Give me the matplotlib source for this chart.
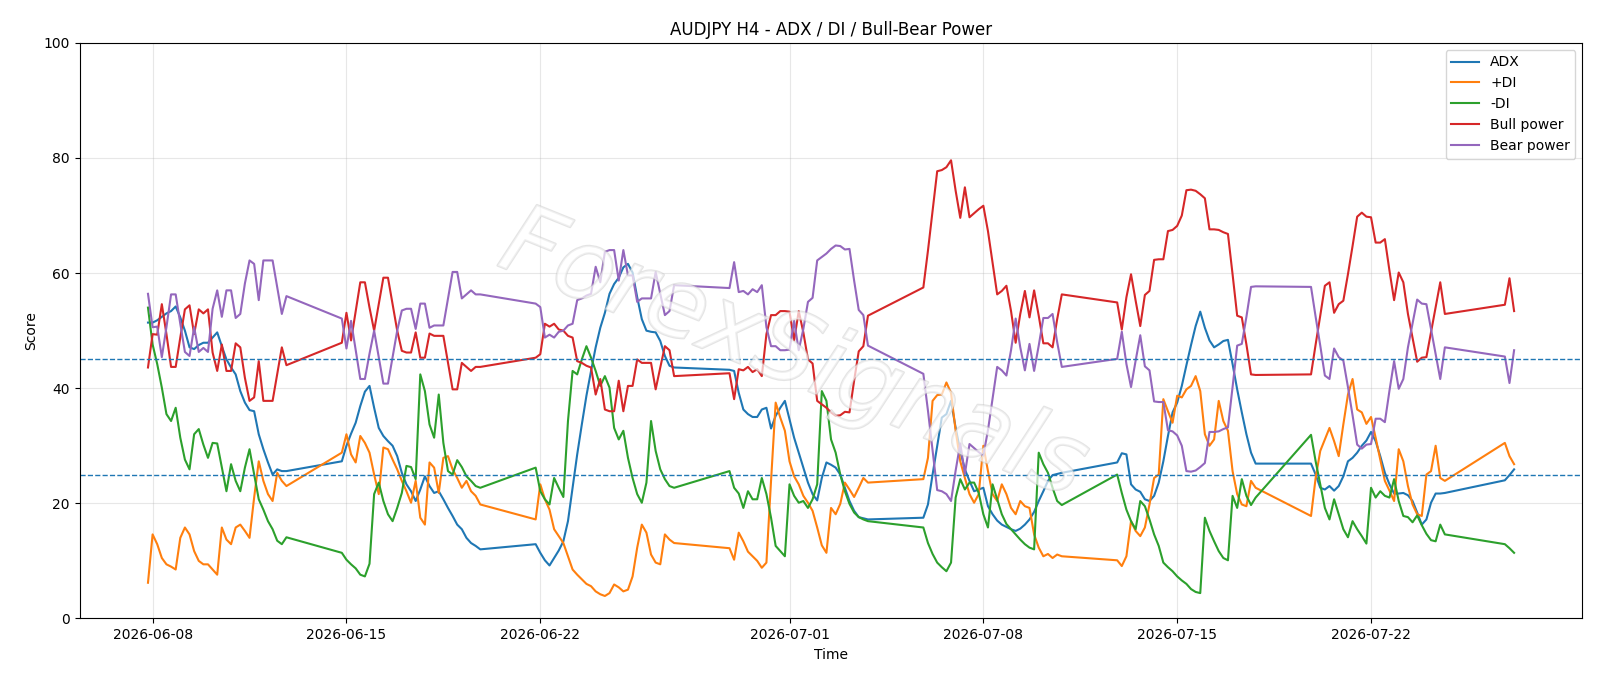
import matplotlib
matplotlib.use("Agg")
import matplotlib.pyplot as plt
import matplotlib.dates as mdates
import matplotlib.patheffects as pe
import pandas as pd

# H4 trading sessions: (first bar, number of bars); weekends are skipped
session_starts = ["2026-06-07 20:00", "2026-06-14 20:00", "2026-06-21 20:00", "2026-06-28 20:00",
                  "2026-07-05 20:00", "2026-07-12 20:00", "2026-07-19 20:00", "2026-07-26 20:00"]
session_bars = [31, 31, 31, 31, 31, 31, 30, 3]

adx = [
    51.4, 51.4, 51.8, 52.4, 53.0, 53.4, 54.2, 52.3, 50.0, 47.1, 46.8, 47.5, 47.9, 47.9, 48.8, 49.7,
    47.3, 45.0, 43.6, 42.4, 39.5, 37.5, 36.2, 36.0, 32.0, 29.4, 27.1, 25.0, 25.9, 25.6, 25.6,
    27.3, 30.0, 32.1, 34.0, 36.9, 39.4, 40.4, 36.6, 33.1, 31.7, 30.8, 30.0, 28.2, 25.3, 23.3, 22.1,
    20.4, 22.4, 24.7, 23.0, 21.8, 22.1, 20.7, 19.2, 17.8, 16.3, 15.5, 14.0, 13.1, 12.6, 12.0,
    12.9, 11.4, 10.1, 9.2, 10.5, 11.8, 13.4, 16.9, 22.7, 28.5, 33.7, 38.7, 43.0, 47.1, 50.5, 53.1,
    56.4, 58.1, 59.2, 61.0, 61.6, 60.1, 55.8, 52.0, 50.0, 49.8, 49.7, 48.2, 45.6, 43.9, 43.6,
    43.2, 43.0, 39.2, 36.3, 35.5, 35.0, 35.0, 36.3, 36.6, 33.0, 35.2, 36.6, 37.8, 34.6, 31.4, 28.8,
    26.2, 23.6, 21.6, 20.5, 24.4, 27.1, 26.7, 26.2, 25.0, 22.7, 20.4, 18.7, 17.6, 17.4, 17.2,
    17.5, 19.8, 25.0, 30.0, 34.9, 35.5, 37.8, 33.1, 29.1, 25.9, 23.9, 22.1, 22.4, 22.7, 19.5, 18.1,
    17.0, 16.3, 15.9, 15.5, 15.2, 15.6, 16.3, 17.2, 18.5, 20.4, 22.1, 23.9, 24.9, 25.1, 25.3,
    27.1, 28.7, 28.5, 23.3, 22.4, 22.0, 20.7, 20.4, 21.3, 23.6, 27.3, 31.7, 35.8, 37.5, 40.4, 44.0,
    47.5, 50.8, 53.3, 50.5, 48.3, 47.1, 47.6, 48.2, 48.4, 44.2, 39.8, 35.8, 32.0, 28.8, 26.9,
    26.9, 25.0, 22.7, 22.4, 23.0, 22.2, 23.0, 24.7, 27.3, 27.9, 28.8, 30.0, 30.9, 32.4, 30.8, 28.2,
    25.3, 23.3, 21.7, 21.7, 21.8, 21.4, 20.4, 18.4, 16.3, 17.2, 20.1, 21.7, 21.7, 21.8,
    24.0, 24.9, 25.9,
]

plus_di = [
    6.2, 14.6, 12.9, 10.5, 9.4, 9.0, 8.5, 14.0, 15.8, 14.6, 11.7, 10.0, 9.4, 9.4, 8.5, 7.6,
    15.8, 13.7, 12.9, 15.8, 16.3, 15.2, 14.0, 21.0, 27.3, 23.9, 21.6, 20.4, 25.3, 23.9, 23.0,
    28.8, 32.0, 28.5, 27.1, 31.7, 30.5, 28.8, 25.0, 21.6, 29.7, 29.4, 27.6, 25.9, 23.9, 22.1, 20.1,
    23.9, 17.5, 16.3, 27.1, 26.2, 21.8, 27.9, 28.2, 25.9, 24.4, 22.7, 23.9, 22.1, 21.3, 19.8,
    17.2, 23.3, 20.7, 18.9, 15.5, 14.3, 13.1, 10.8, 8.5, 7.6, 6.8, 6.0, 5.6, 4.7, 4.2, 3.9,
    4.4, 5.9, 5.4, 4.7, 5.0, 7.3, 12.3, 16.3, 14.9, 11.1, 9.7, 9.4, 14.6, 13.7, 13.1,
    12.2, 10.2, 14.9, 13.4, 11.6, 10.8, 10.0, 8.8, 9.7, 23.9, 37.5, 34.9, 32.6, 27.3, 24.7, 23.3,
    21.3, 20.1, 18.7, 15.8, 12.7, 11.4, 19.2, 18.1, 19.9, 23.6, 22.4, 21.1, 22.7, 24.4, 23.6,
    24.2, 27.9, 37.8, 38.8, 38.9, 41.0, 39.2, 32.6, 27.3, 24.4, 21.6, 20.1, 21.6, 30.0, 25.6, 21.6,
    20.4, 23.3, 21.6, 19.2, 18.1, 20.4, 19.5, 19.2, 14.6, 12.3, 10.8, 11.2, 10.5, 11.1, 10.8,
    10.1, 9.1, 10.8, 16.9, 15.2, 14.3, 15.8, 19.8, 24.4, 25.0, 38.1, 36.0, 34.0, 38.7, 38.4, 39.8,
    40.4, 42.1, 39.5, 32.0, 30.0, 31.1, 37.8, 34.3, 32.6, 25.6, 21.6, 19.8, 19.5, 23.9, 22.7,
    17.8, 24.4, 29.1, 31.1, 33.1, 30.8, 28.2, 33.7, 38.9, 41.6, 36.3, 35.8, 33.8, 35.0, 31.4, 27.6,
    23.9, 22.2, 20.4, 29.4, 27.3, 23.0, 19.8, 18.1, 17.8, 25.0, 25.6, 30.0, 24.4, 23.9,
    30.5, 28.2, 26.8,
]

minus_di = [
    54.0, 47.6, 44.2, 40.1, 35.5, 34.3, 36.6, 31.4, 27.6, 25.9, 32.0, 32.9, 30.2, 27.9, 30.5, 30.4,
    26.2, 22.1, 26.8, 23.9, 22.1, 26.2, 29.4, 25.0, 20.7, 18.9, 16.9, 15.5, 13.5, 12.9, 14.1,
    11.4, 10.2, 9.4, 8.7, 7.6, 7.3, 9.5, 21.6, 23.6, 20.4, 18.1, 16.9, 19.2, 21.8, 26.5, 26.3,
    24.2, 42.4, 39.5, 33.7, 31.4, 38.9, 30.5, 25.6, 25.0, 27.5, 26.3, 24.7, 23.9, 23.0, 22.7,
    26.2, 22.1, 20.7, 19.8, 24.4, 22.7, 21.1, 34.3, 43.0, 42.4, 45.0, 47.3, 45.3, 43.0, 40.4, 42.1,
    40.1, 33.1, 31.1, 32.6, 27.9, 24.4, 21.6, 20.1, 23.6, 34.3, 29.1, 25.9, 24.2, 23.0, 22.7,
    25.6, 22.7, 21.7, 19.2, 22.1, 20.7, 20.7, 24.4, 21.6, 17.5, 12.6, 11.7, 10.8, 23.3, 21.3, 20.1,
    20.4, 19.2, 20.7, 23.3, 39.5, 37.8, 31.1, 28.8, 25.0, 22.1, 19.9, 18.4, 17.6, 17.2, 16.9,
    15.8, 13.1, 11.2, 9.7, 8.9, 8.2, 9.7, 21.0, 24.2, 22.4, 23.6, 23.6, 21.8, 18.1, 15.8, 23.3,
    20.7, 18.1, 16.4, 15.5, 14.6, 13.7, 12.9, 12.3, 12.0, 28.8, 26.8, 25.3, 22.7, 20.4, 19.7,
    25.0, 21.8, 18.9, 16.9, 15.5, 20.4, 19.5, 17.2, 14.6, 12.6, 9.7, 8.9, 8.2, 7.3, 6.6, 6.0,
    5.1, 4.6, 4.4, 17.5, 15.2, 13.4, 11.7, 10.5, 10.1, 21.3, 19.2, 24.2, 21.3, 19.7, 21.0,
    31.9, 27.3, 23.3, 19.2, 17.2, 20.7, 18.1, 15.5, 14.1, 16.9, 15.5, 14.3, 13.0, 22.7, 21.0, 22.1,
    21.3, 21.0, 24.2, 20.4, 17.8, 17.6, 16.7, 17.9, 16.2, 14.7, 13.6, 13.4, 16.3, 14.6,
    12.9, 12.2, 11.4,
]

bull_power = [
    43.6, 49.4, 49.3, 54.6, 49.4, 43.7, 43.7, 48.8, 53.7, 54.4, 49.4, 53.7, 53.0, 53.7, 46.2, 43.0,
    47.6, 43.0, 43.0, 47.8, 47.1, 41.8, 37.8, 38.4, 44.7, 37.8, 37.8, 37.8, 42.4, 47.1, 44.0,
    47.9, 53.1, 48.3, 53.3, 58.4, 58.4, 54.0, 50.0, 54.6, 59.2, 59.2, 54.6, 50.0, 46.5, 46.2, 46.2,
    49.7, 45.3, 45.3, 49.5, 49.1, 49.1, 49.1, 44.4, 39.8, 39.8, 44.4, 43.7, 43.0, 43.7, 43.7,
    45.3, 45.9, 51.2, 50.7, 51.2, 50.2, 50.0, 49.1, 48.8, 44.7, 44.4, 43.9, 43.6, 38.9, 41.6, 36.3,
    36.0, 36.0, 41.3, 36.0, 40.4, 40.4, 45.0, 44.4, 44.4, 44.4, 39.8, 43.6, 47.3, 46.6, 42.1,
    42.6, 38.1, 43.3, 43.1, 43.7, 42.8, 43.3, 42.1, 49.4, 52.7, 52.7, 53.4, 53.4, 53.3, 48.3, 53.4,
    49.7, 45.0, 44.3, 37.8, 37.2, 36.6, 35.8, 35.2, 35.3, 35.9, 35.8, 41.3, 46.4, 47.3, 52.6,
    57.5, 63.9, 70.8, 77.7, 77.9, 78.4, 79.6, 74.3, 69.6, 74.9, 69.7, 70.4, 71.1, 71.7, 67.3, 61.8,
    56.3, 56.9, 57.8, 53.4, 47.9, 52.9, 56.9, 52.3, 57.0, 52.6, 47.8, 47.8, 47.1, 52.0, 56.3,
    54.9, 50.2, 55.8, 59.8, 55.2, 50.8, 56.2, 56.9, 62.3, 62.4, 62.4, 67.3, 67.5, 68.2, 70.0, 74.4,
    74.5, 74.3, 73.7, 73.0, 67.6, 67.6, 67.5, 67.1, 66.8, 59.8, 52.6, 52.3, 47.6, 42.4, 42.3,
    42.4, 47.6, 52.6, 57.8, 58.4, 53.1, 54.6, 55.2, 59.8, 64.7, 69.8, 70.5, 69.8, 69.7, 65.3, 65.3,
    65.9, 60.4, 55.3, 60.1, 58.4, 52.9, 48.8, 44.6, 45.3, 45.4, 49.7, 54.0, 58.4, 52.9,
    54.5, 59.1, 53.4,
]

bear_power = [
    56.4, 50.6, 50.7, 45.4, 50.6, 56.3, 56.3, 51.2, 46.3, 45.6, 50.6, 46.3, 47.0, 46.3, 53.8, 57.0,
    52.4, 57.0, 57.0, 52.2, 52.9, 58.2, 62.2, 61.6, 55.3, 62.2, 62.2, 62.2, 57.6, 52.9, 56.0,
    52.1, 46.9, 51.7, 46.7, 41.6, 41.6, 46.0, 50.0, 45.4, 40.8, 40.8, 45.4, 50.0, 53.5, 53.8, 53.8,
    50.3, 54.7, 54.7, 50.5, 50.9, 50.9, 50.9, 55.6, 60.2, 60.2, 55.6, 56.3, 57.0, 56.3, 56.3,
    54.7, 54.1, 48.8, 49.3, 48.8, 49.8, 50.0, 50.9, 51.2, 55.3, 55.6, 56.1, 56.4, 61.1, 58.4, 63.7,
    64.0, 64.0, 58.7, 64.0, 59.6, 59.6, 55.0, 55.6, 55.6, 55.6, 60.2, 56.4, 52.7, 53.4, 57.9,
    57.4, 61.9, 56.7, 56.9, 56.3, 57.2, 56.7, 57.9, 50.6, 47.3, 47.3, 46.6, 46.6, 46.7, 51.7, 46.6,
    50.3, 55.0, 55.7, 62.2, 62.8, 63.4, 64.2, 64.8, 64.7, 64.1, 64.2, 58.7, 53.6, 52.7, 47.4,
    42.5, 36.1, 29.2, 22.3, 22.1, 21.6, 20.4, 25.7, 30.4, 25.1, 30.3, 29.6, 28.9, 28.3, 32.7, 38.2,
    43.7, 43.1, 42.2, 46.6, 52.1, 47.1, 43.1, 47.7, 43.0, 47.4, 52.2, 52.2, 52.9, 48.0, 43.7,
    45.1, 49.8, 44.2, 40.2, 44.8, 49.2, 43.8, 43.1, 37.7, 37.6, 37.6, 32.7, 32.5, 31.8, 30.0, 25.6,
    25.5, 25.7, 26.3, 27.0, 32.4, 32.4, 32.5, 32.9, 33.2, 40.2, 47.4, 47.7, 52.4, 57.6, 57.7,
    57.6, 52.4, 47.4, 42.2, 41.6, 46.9, 45.4, 44.8, 40.2, 35.3, 30.2, 29.5, 30.2, 30.3, 34.7, 34.7,
    34.1, 39.6, 44.7, 39.9, 41.6, 47.1, 51.2, 55.4, 54.7, 54.6, 50.3, 46.0, 41.6, 47.1,
    45.5, 40.9, 46.6,
]

# build the bar timestamps session by session
times = pd.DatetimeIndex([])
for start, n in zip(session_starts, session_bars):
    times = times.append(pd.date_range(start, periods=n, freq="4h"))

fig = plt.figure(figsize=(16, 6.86), dpi=100)
ax = fig.add_axes([0.0498, 0.0985, 0.9392, 0.839])

ax.plot(times, adx, label="ADX", lw=1.5)
ax.plot(times, plus_di, label="+DI", lw=1.5)
ax.plot(times, minus_di, label="-DI", lw=1.5)
ax.plot(times, bull_power, label="Bull power", lw=1.5)
ax.plot(times, bear_power, label="Bear power", lw=1.5)

ax.axhline(45, color="C0", ls="--", lw=1)
ax.axhline(25, color="C0", ls="--", lw=1)

# watermark: thin hollow letters drawn over the lines
ax.text(0.475, 0.455, "ForexSignals", transform=ax.transAxes, fontsize=70,
        fontstyle="italic", color="white", alpha=0.45, rotation=-22,
        ha="center", va="center", zorder=5,
        path_effects=[pe.withStroke(linewidth=1.6, foreground="#c4c4c4")])

ax.set_ylim(0, 100)
ax.xaxis.set_major_locator(mdates.DayLocator(bymonthday=[1, 8, 15, 22]))
ax.xaxis.set_major_formatter(mdates.DateFormatter("%Y-%m-%d"))
ax.grid(True, alpha=0.3)
ax.set_title("AUDJPY H4 - ADX / DI / Bull-Bear Power")
ax.set_xlabel("Time")
ax.set_ylabel("Score")
ax.legend(loc="upper right")

fig.savefig("out.png", dpi=100)
